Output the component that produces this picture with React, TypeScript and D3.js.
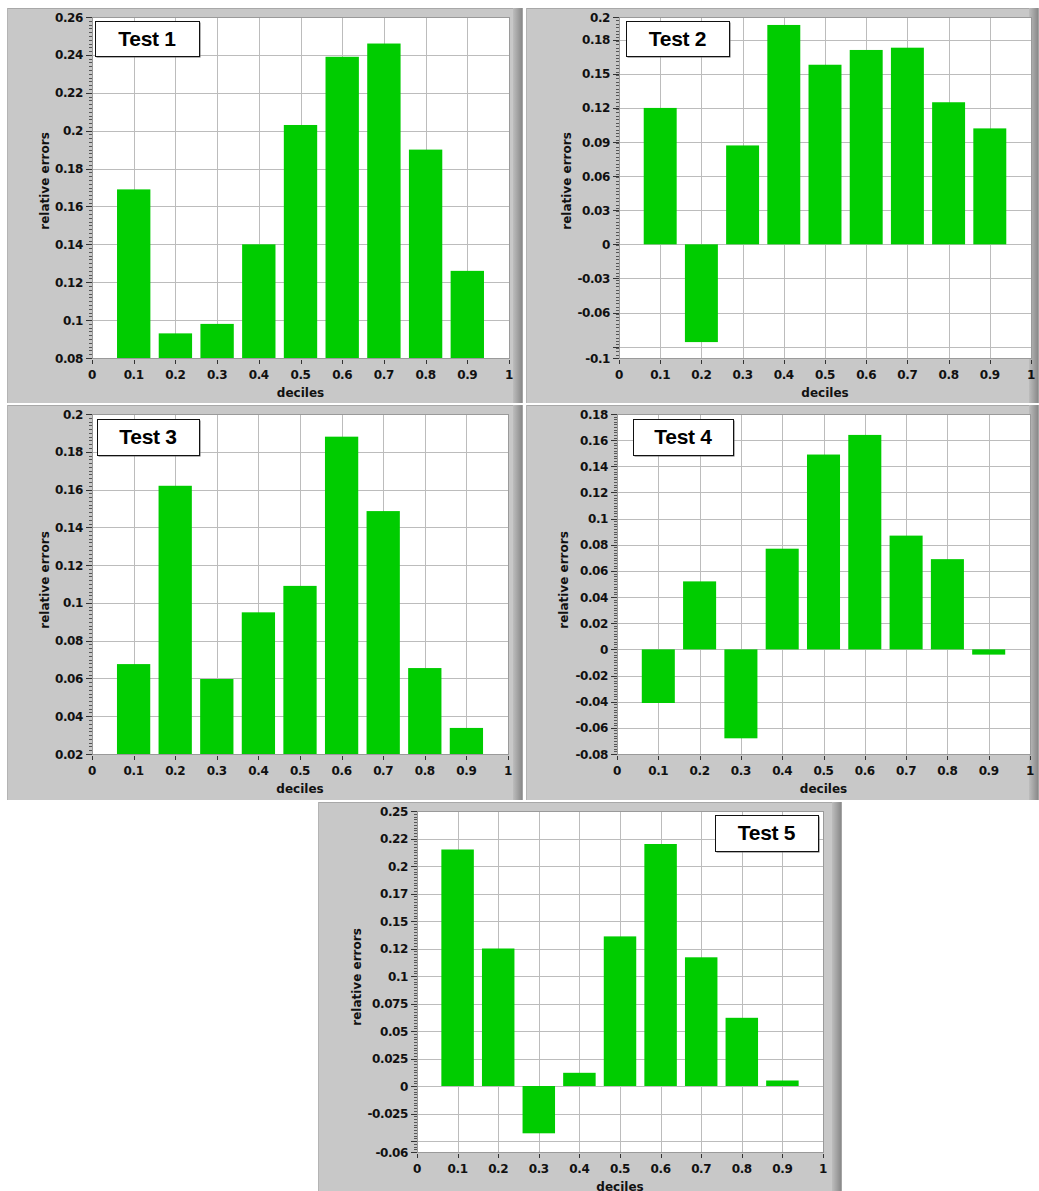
import React from 'react';
import * as d3 from 'd3';

// deciles on the x axis
const deciles = [0.1, 0.2, 0.3, 0.4, 0.5, 0.6, 0.7, 0.8, 0.9];
const xTicks = [0, 0.1, 0.2, 0.3, 0.4, 0.5, 0.6, 0.7, 0.8, 0.9, 1];
const xTickLabels = ['0', '0.1', '0.2', '0.3', '0.4', '0.5', '0.6', '0.7', '0.8', '0.9', '1'];

// relative errors per test
const test1Errors = [0.169, 0.093, 0.098, 0.14, 0.203, 0.239, 0.246, 0.19, 0.126];
const test2Errors = [0.12, -0.086, 0.087, 0.193, 0.158, 0.171, 0.173, 0.125, 0.102];
const test3Errors = [0.0676, 0.162, 0.0597, 0.095, 0.109, 0.188, 0.1486, 0.0655, 0.0338];
const test4Errors = [-0.041, 0.052, -0.068, 0.077, 0.149, 0.164, 0.087, 0.069, -0.004];
const test5Errors = [0.215, 0.125, -0.043, 0.012, 0.136, 0.22, 0.117, 0.062, 0.005];

// y ticks and their labels (empty label = grid line only)
const test1YTicks = [0.08, 0.1, 0.12, 0.14, 0.16, 0.18, 0.2, 0.22, 0.24, 0.26];
const test1YLabels = ['0.08', '0.1', '0.12', '0.14', '0.16', '0.18', '0.2', '0.22', '0.24', '0.26'];
const test2YTicks = [-0.1, -0.09, -0.06, -0.03, 0, 0.03, 0.06, 0.09, 0.12, 0.15, 0.18, 0.2];
const test2YLabels = ['-0.1', '', '-0.06', '-0.03', '0', '0.03', '0.06', '0.09', '0.12', '0.15', '0.18', '0.2'];
const test3YTicks = [0.02, 0.04, 0.06, 0.08, 0.1, 0.12, 0.14, 0.16, 0.18, 0.2];
const test3YLabels = ['0.02', '0.04', '0.06', '0.08', '0.1', '0.12', '0.14', '0.16', '0.18', '0.2'];
const test4YTicks = [-0.08, -0.06, -0.04, -0.02, 0, 0.02, 0.04, 0.06, 0.08, 0.1, 0.12, 0.14, 0.16, 0.18];
const test4YLabels = ['-0.08', '-0.06', '-0.04', '-0.02', '0', '0.02', '0.04', '0.06', '0.08', '0.1', '0.12', '0.14', '0.16', '0.18'];
const test5YTicks = [-0.06, -0.05, -0.025, 0, 0.025, 0.05, 0.075, 0.1, 0.125, 0.15, 0.175, 0.2, 0.225, 0.25];
const test5YLabels = ['-0.06', '', '-0.025', '0', '0.025', '0.05', '0.075', '0.1', '0.12', '0.15', '0.17', '0.2', '0.22', '0.25'];

const BAR_COLOR = '#00cc00';
const GRID = '#bcbcbc';
const PANEL_BG = '#c8c8c8';
const TICK_FONT = '"DejaVu Sans", Verdana, sans-serif';

interface PanelProps {
  title: string;
  values: number[];
  yTicks: number[];
  yLabels: string[];
  minorStep: number;
  frame: { x: number; y: number; w: number; h: number };
  plot: { left: number; right: number; top: number; bottom: number };
  titleBox: { x: number; y: number; w: number; h: number };
  yLabelPos: { x: number; y: number };
}

const Panel: React.FC<PanelProps> = ({
  title, values, yTicks, yLabels, minorStep, frame, plot, titleBox, yLabelPos
}) => {
  const domain = d3.extent(yTicks) as [number, number];
  const x = d3.scaleLinear().domain([0, 1]).range([plot.left, plot.right]);
  const y = d3.scaleLinear().domain(domain).range([plot.bottom, plot.top]);
  const base = Math.max(domain[0], Math.min(domain[1], 0));
  const barW = x(0.08) - x(0);
  const minors = d3.range(domain[0], domain[1] + minorStep / 2, minorStep);
  const py = (v: number) => Math.round(y(v)) + 0.5;

  return (
    <g>
      {/* panel background */}
      <rect x={frame.x} y={frame.y} width={frame.w} height={frame.h} fill={PANEL_BG} />
      <line x1={frame.x} x2={frame.x + frame.w} y1={frame.y + 0.5} y2={frame.y + 0.5} stroke="#a8a8a8" />
      <line x1={frame.x + 0.5} x2={frame.x + 0.5} y1={frame.y} y2={frame.y + frame.h} stroke="#b4b4b4" />
      {/* scroll-bar like strip on the right */}
      <rect x={frame.x + frame.w - 10} y={frame.y} width={10} height={frame.h} fill="url(#strip)" />

      {/* plot area */}
      <rect x={plot.left} y={plot.top} width={plot.right - plot.left} height={plot.bottom - plot.top} fill="#fff" />

      {/* grid */}
      {xTicks.slice(1, -1).map(t => (
        <line key={'gx' + t} x1={Math.round(x(t)) + 0.5} x2={Math.round(x(t)) + 0.5} y1={plot.top} y2={plot.bottom} stroke={GRID} />
      ))}
      {yTicks.slice(1, -1).map(t => (
        <line key={'gy' + t} x1={plot.left} x2={plot.right} y1={py(t)} y2={py(t)} stroke={GRID} />
      ))}

      {/* bars */}
      {values.map((v, i) => {
        const y0 = y(base);
        const y1 = y(v);
        return (
          <rect
            key={'b' + i}
            x={x(deciles[i]) - barW / 2}
            y={Math.min(y0, y1)}
            width={barW}
            height={Math.abs(y1 - y0)}
            fill={BAR_COLOR}
          />
        );
      })}

      <rect x={plot.left + 0.5} y={plot.top + 0.5} width={plot.right - plot.left} height={plot.bottom - plot.top}
        fill="none" stroke="#9a9a9a" />

      {/* y axis: minor and major ticks */}
      {minors.map((m, i) => (
        <line key={'mn' + i} x1={plot.left - 3} x2={plot.left} y1={py(m)} y2={py(m)} stroke="#555" />
      ))}
      {yTicks.map((t, i) => (
        <g key={'yt' + i}>
          <line x1={plot.left - 6} x2={plot.left} y1={py(t)} y2={py(t)} stroke="#333" />
          {yLabels[i] !== '' && (
            <text x={plot.left - 9} y={y(t) + 4.5} textAnchor="end" fontSize={12} fontWeight="bold"
              letterSpacing={-0.4} fontFamily={TICK_FONT} fill="#111">{yLabels[i]}</text>
          )}
        </g>
      ))}

      {/* x axis */}
      {xTicks.map((t, i) => (
        <g key={'xt' + i}>
          <line x1={Math.round(x(t)) + 0.5} x2={Math.round(x(t)) + 0.5} y1={plot.bottom + 2} y2={plot.bottom + 6} stroke="#333" />
          <text x={x(t)} y={plot.bottom + 21} textAnchor="middle" fontSize={12} fontWeight="bold"
            letterSpacing={-0.4} fontFamily={TICK_FONT} fill="#111">{xTickLabels[i]}</text>
        </g>
      ))}

      {/* axis titles */}
      <text x={(plot.left + plot.right) / 2} y={plot.bottom + 39} textAnchor="middle" fontSize={12}
        fontWeight="bold" fontFamily={TICK_FONT} fill="#111">deciles</text>
      <text transform={`translate(${yLabelPos.x},${yLabelPos.y}) rotate(-90)`} textAnchor="middle"
        fontSize={12} fontWeight="bold" fontFamily={TICK_FONT} fill="#111">relative errors</text>

      {/* title box */}
      <rect x={titleBox.x + 1.5} y={titleBox.y + 1.5} width={titleBox.w} height={titleBox.h} fill="#666" />
      <rect x={titleBox.x + 0.5} y={titleBox.y + 0.5} width={titleBox.w} height={titleBox.h} fill="#fff" stroke="#111" />
      <text x={titleBox.x + titleBox.w / 2} y={titleBox.y + titleBox.h / 2 + 7} textAnchor="middle"
        fontSize={21} fontWeight="bold" letterSpacing={-0.3} fontFamily='"Liberation Sans", Arial, sans-serif' fill="#000">{title}</text>
    </g>
  );
};

const App: React.FC = () => {
  return (
    <svg width={1039} height={1191} style={{ position: 'absolute', left: 0, top: 0, background: '#fff' }}>
      <defs>
        <linearGradient id="strip" x1="0" x2="1" y1="0" y2="0">
          <stop offset="0" stopColor="#bdbdbd" />
          <stop offset="0.45" stopColor="#a4a4a4" />
          <stop offset="0.85" stopColor="#8c8c8c" />
          <stop offset="1" stopColor="#b0b0b0" />
        </linearGradient>
      </defs>
      <Panel title="Test 1" values={test1Errors} yTicks={test1YTicks} yLabels={test1YLabels} minorStep={0.002}
        frame={{ x: 7, y: 8, w: 516, h: 395 }}
        plot={{ left: 92, right: 509, top: 17, bottom: 358 }}
        titleBox={{ x: 95, y: 21, w: 104, h: 35 }}
        yLabelPos={{ x: 49, y: 181 }} />
      <Panel title="Test 2" values={test2Errors} yTicks={test2YTicks} yLabels={test2YLabels} minorStep={0.003}
        frame={{ x: 526, y: 8, w: 513, h: 395 }}
        plot={{ left: 619, right: 1031, top: 17, bottom: 358 }}
        titleBox={{ x: 626, y: 21, w: 103, h: 35 }}
        yLabelPos={{ x: 571, y: 181 }} />
      <Panel title="Test 3" values={test3Errors} yTicks={test3YTicks} yLabels={test3YLabels} minorStep={0.002}
        frame={{ x: 7, y: 405, w: 516, h: 395 }}
        plot={{ left: 92, right: 508, top: 414, bottom: 754 }}
        titleBox={{ x: 97, y: 419, w: 102, h: 36 }}
        yLabelPos={{ x: 49, y: 580 }} />
      <Panel title="Test 4" values={test4Errors} yTicks={test4YTicks} yLabels={test4YLabels} minorStep={0.002}
        frame={{ x: 526, y: 405, w: 513, h: 395 }}
        plot={{ left: 617, right: 1030, top: 414, bottom: 754 }}
        titleBox={{ x: 633, y: 419, w: 100, h: 36 }}
        yLabelPos={{ x: 568, y: 580 }} />
      <Panel title="Test 5" values={test5Errors} yTicks={test5YTicks} yLabels={test5YLabels} minorStep={0.0025}
        frame={{ x: 318, y: 802, w: 524, h: 389 }}
        plot={{ left: 417, right: 823, top: 811, bottom: 1152 }}
        titleBox={{ x: 715, y: 815, w: 103, h: 36 }}
        yLabelPos={{ x: 361, y: 977 }} />
    </svg>
  );
};

export default App;
